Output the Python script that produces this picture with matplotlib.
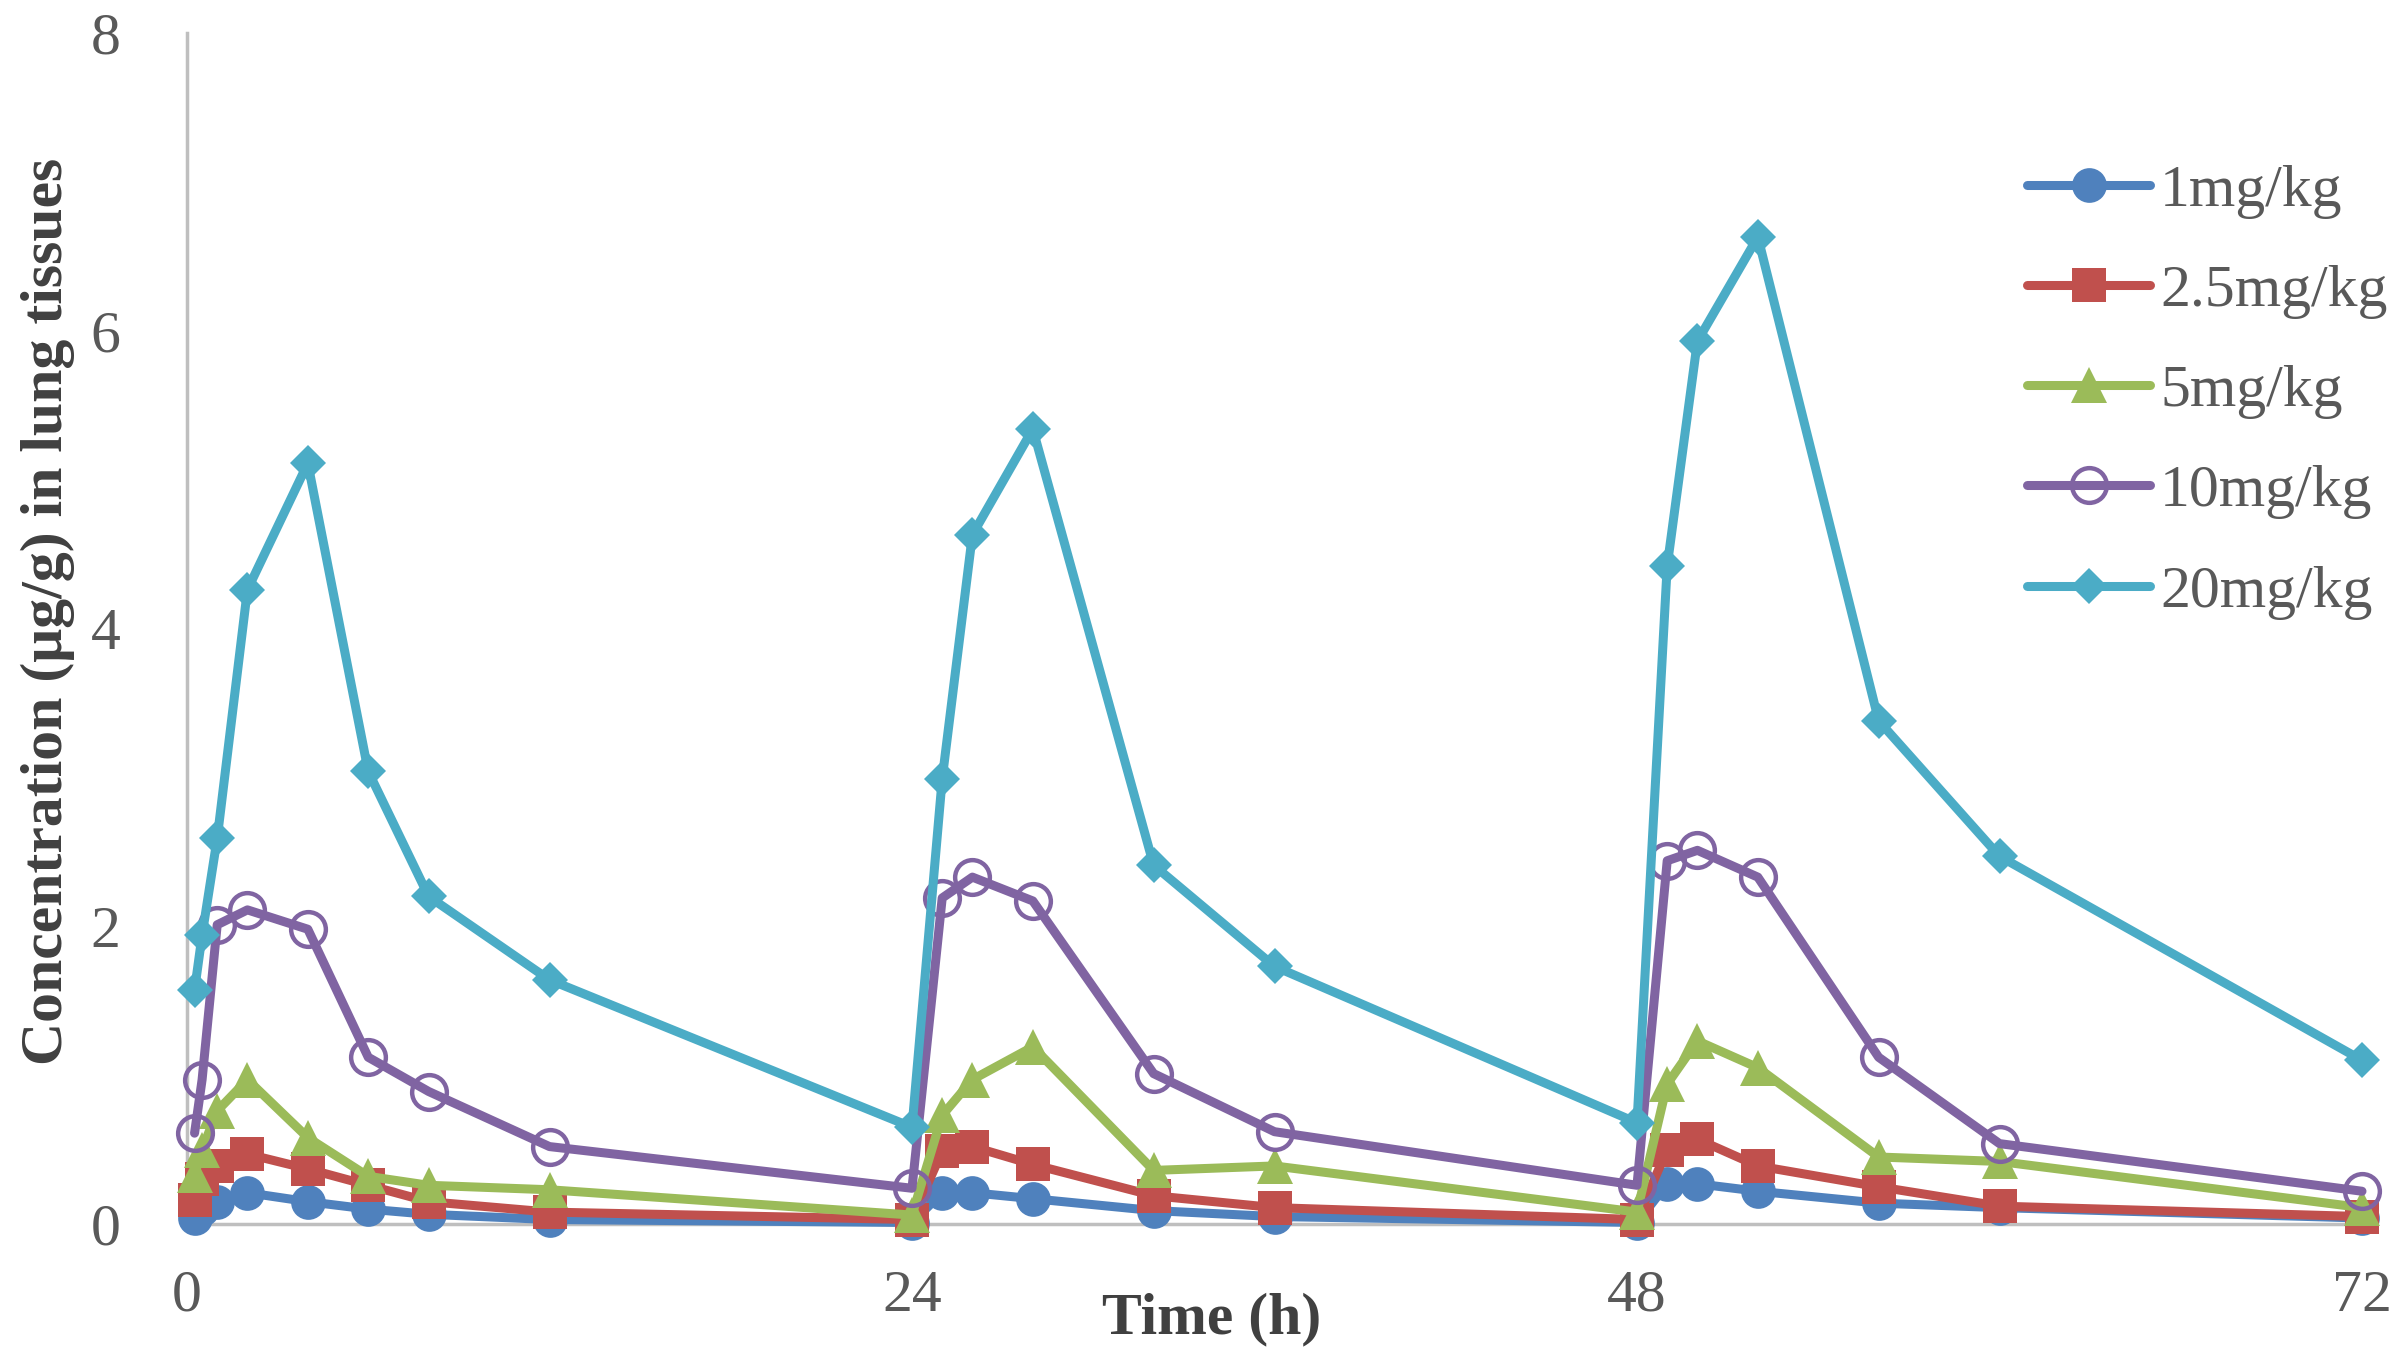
import matplotlib
matplotlib.use('Agg')
import matplotlib.pyplot as plt

plt.rcParams['font.family'] = ['Liberation Serif', 'DejaVu Serif']

# sampling times (h), three dosing cycles
hours = [0.25, 0.5, 1, 2, 4, 6, 8, 12, 24,
         25, 26, 28, 32, 36, 48,
         49, 50, 52, 56, 60, 72]

labels = ['1mg/kg', '2.5mg/kg', '5mg/kg', '10mg/kg', '20mg/kg']

dose_1 = [0.04, 0.10, 0.15, 0.21, 0.15, 0.10, 0.065, 0.03, 0.01,
          0.21, 0.21, 0.17, 0.09, 0.05, 0.01,
          0.27, 0.27, 0.22, 0.14, 0.11, 0.04]
dose_2_5 = [0.16, 0.30, 0.39, 0.47, 0.37, 0.26, 0.15, 0.08, 0.03,
            0.49, 0.52, 0.40, 0.19, 0.11, 0.03,
            0.50, 0.57, 0.39, 0.25, 0.12, 0.05]
dose_5 = [0.33, 0.50, 0.76, 0.97, 0.58, 0.32, 0.26, 0.23, 0.06,
          0.73, 0.97, 1.19, 0.36, 0.39, 0.08,
          0.94, 1.23, 1.05, 0.45, 0.42, 0.11]
dose_10 = [0.61, 0.97, 2.01, 2.11, 1.98, 1.12, 0.89, 0.52, 0.24,
           2.19, 2.33, 2.17, 1.01, 0.62, 0.26,
           2.44, 2.51, 2.33, 1.12, 0.54, 0.22]
dose_20 = [1.57, 1.94, 2.59, 4.26, 5.11, 3.04, 2.20, 1.64, 0.65,
           2.99, 4.63, 5.34, 2.41, 1.73, 0.68,
           4.42, 5.93, 6.63, 3.38, 2.47, 1.10]

series = [dose_1, dose_2_5, dose_5, dose_10, dose_20]
colors = ['#4F81BD', '#C0504D', '#9BBB59', '#8064A2', '#4BACC6']
markers = ['o', 's', '^', 'o', 'D']
msizes = [25, 24, 26, 25, 18]

fig = plt.figure(figsize=(24, 13.68), dpi=100)
ax = fig.add_axes([187 / 2400, 1 - 1224 / 1368, 2175 / 2400, 1191 / 1368])

for vals, lab, c, m, ms in zip(series, labels, colors, markers, msizes):
    if lab == '10mg/kg':
        ax.plot(hours, vals, color=c, lw=6.5, marker=m, ms=ms,
                mfc='none', mec=c, mew=3.2, label=lab, clip_on=False,
                solid_joinstyle='round', solid_capstyle='round')
    else:
        ax.plot(hours, vals, color=c, lw=6.5, marker=m, ms=ms,
                mfc=c, mec=c, mew=0, label=lab, clip_on=False,
                solid_joinstyle='round', solid_capstyle='round')

ax.set_xlim(0, 72)
ax.set_ylim(0, 8)
ax.set_xticks([0, 24, 48, 72])
ax.set_yticks([0, 2, 4, 6, 8])

for s in ['top', 'right']:
    ax.spines[s].set_visible(False)
for s in ['left', 'bottom']:
    ax.spines[s].set_color('#BFBFBF')
    ax.spines[s].set_linewidth(2.5)
    ax.spines[s].set_zorder(0)

ax.tick_params(axis='both', length=0, labelsize=43, labelcolor='#595959')
ax.tick_params(axis='y', pad=48)
ax.tick_params(axis='x', pad=33)

ax.set_xlabel('Time (h)', fontsize=43, fontweight='bold', color='#404040')
ax.xaxis.set_label_coords(0.471, -0.08)
ax.xaxis.label.set_va('center')
ax.set_ylabel('Concentration (μg/g) in lung tissues', fontsize=43,
              fontweight='bold', color='#404040')
ax.yaxis.set_label_coords(-0.064, 0.514)
ax.yaxis.label.set_va('center')

leg = ax.legend(loc='upper left', bbox_to_anchor=(2027 / 2400, 1 - 164 / 1368),
                bbox_transform=fig.transFigure, frameon=False, fontsize=43,
                handlelength=2.06, handletextpad=0.17, labelspacing=0.76,
                borderpad=0, borderaxespad=0)
for t in leg.get_texts():
    t.set_color('#595959')

fig.savefig('out.png', dpi=100)
